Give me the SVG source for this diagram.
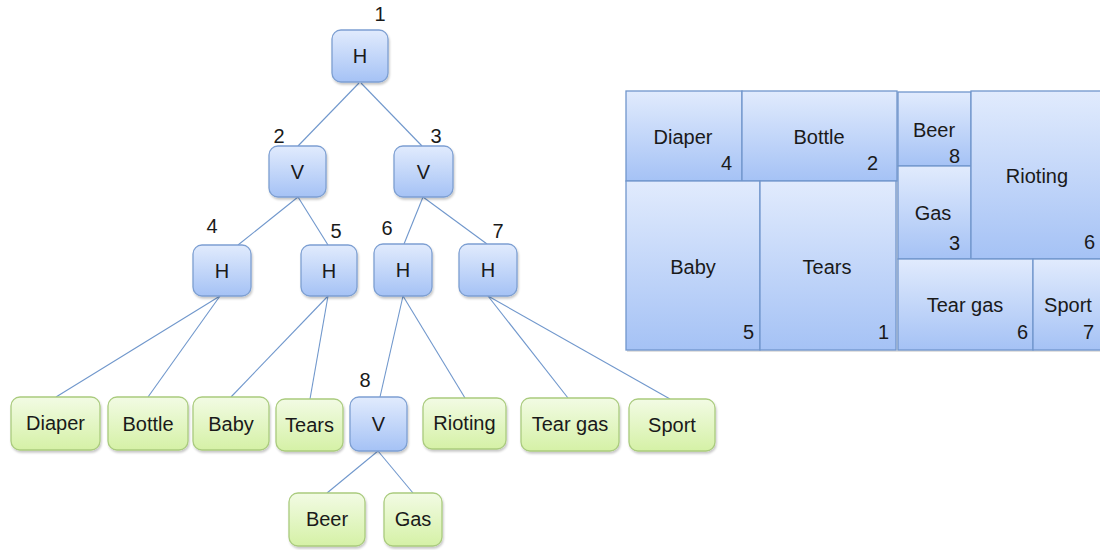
<svg xmlns="http://www.w3.org/2000/svg" width="1100" height="550" viewBox="0 0 1100 550">
  <defs>
    <linearGradient id="blueFill" x1="0" y1="0" x2="0" y2="1">
      <stop offset="0" stop-color="#e1ebfd"/>
      <stop offset="1" stop-color="#a5c2f5"/>
    </linearGradient>
    <linearGradient id="greenFill" x1="0" y1="0" x2="0" y2="1">
      <stop offset="0" stop-color="#f2fbe4"/>
      <stop offset="1" stop-color="#d5f1a6"/>
    </linearGradient>
    <filter id="shadow" x="-10%" y="-10%" width="130%" height="130%">
      <feDropShadow dx="1" dy="2" stdDeviation="1.2" flood-color="#000" flood-opacity="0.22"/>
    </filter>
  </defs>
  <style>
    text { font-family: "Liberation Sans", Arial, sans-serif; font-size: 20px; fill: #1a1a1a; }
    .lbl { text-anchor: middle; dominant-baseline: central; }
    .num { text-anchor: middle; }
    .cnt { text-anchor: end; }
    .op rect { fill: url(#blueFill); stroke: #7d9fd2; stroke-width: 1.3; filter: url(#shadow); }
    .leaf rect { fill: url(#greenFill); stroke: #aacb7e; stroke-width: 1.3; filter: url(#shadow); }
    .cell rect { fill: url(#blueFill); stroke: #7096cc; stroke-width: 1.3; }
    #connectors line { stroke: #7097cc; stroke-width: 1.1; }
  </style>

  <rect width="1100" height="550" fill="#ffffff"/>

  <!-- tree edges -->
  <g id="connectors">
    <line x1="359" y1="83" x2="298" y2="146"/>
    <line x1="361" y1="83" x2="422" y2="146"/>
    <line x1="298" y1="197" x2="238" y2="245"/>
    <line x1="298" y1="197" x2="328" y2="245"/>
    <line x1="423" y1="197" x2="404" y2="244"/>
    <line x1="423" y1="197" x2="487" y2="244"/>
    <line x1="220" y1="296" x2="56" y2="397"/>
    <line x1="220" y1="296" x2="148" y2="397"/>
    <line x1="328" y1="296" x2="231" y2="397"/>
    <line x1="328" y1="296" x2="310" y2="399"/>
    <line x1="403" y1="296" x2="380" y2="397"/>
    <line x1="403" y1="296" x2="465" y2="398"/>
    <line x1="488" y1="296" x2="568" y2="398"/>
    <line x1="488" y1="296" x2="670" y2="399"/>
    <line x1="378" y1="451" x2="327" y2="493"/>
    <line x1="378" y1="451" x2="413" y2="493"/>
  </g>

  <!-- split nodes -->
  <g id="n1" class="op"><rect x="332" y="30" width="56" height="52" rx="9"/><text class="lbl" x="360" y="56">H</text><text class="num" x="380" y="21">1</text></g>
  <g id="n2" class="op"><rect x="269" y="146" width="57" height="51" rx="9"/><text class="lbl" x="297.5" y="172">V</text><text class="num" x="279" y="143">2</text></g>
  <g id="n3" class="op"><rect x="394" y="146" width="59" height="51" rx="9"/><text class="lbl" x="423.5" y="172">V</text><text class="num" x="436" y="143">3</text></g>
  <g id="n4" class="op"><rect x="193" y="245" width="58" height="51" rx="9"/><text class="lbl" x="222" y="271">H</text><text class="num" x="212" y="233">4</text></g>
  <g id="n5" class="op"><rect x="301" y="245" width="56" height="51" rx="9"/><text class="lbl" x="329" y="271">H</text><text class="num" x="336" y="238">5</text></g>
  <g id="n6" class="op"><rect x="374" y="244" width="58" height="52" rx="9"/><text class="lbl" x="403" y="270">H</text><text class="num" x="387" y="235">6</text></g>
  <g id="n7" class="op"><rect x="459" y="244" width="58" height="52" rx="9"/><text class="lbl" x="488" y="270">H</text><text class="num" x="498" y="238">7</text></g>
  <g id="n8" class="op"><rect x="350" y="397" width="57" height="54" rx="9"/><text class="lbl" x="378.5" y="424">V</text><text class="num" x="365" y="387">8</text></g>

  <!-- leaf items -->
  <g id="diaper" class="leaf"><rect x="11" y="397" width="89" height="53" rx="9"/><text class="lbl" x="55.5" y="423">Diaper</text></g>
  <g id="bottle" class="leaf"><rect x="108" y="397" width="80" height="53" rx="9"/><text class="lbl" x="148" y="424">Bottle</text></g>
  <g id="baby" class="leaf"><rect x="193" y="397" width="76" height="53" rx="9"/><text class="lbl" x="231" y="424">Baby</text></g>
  <g id="tears" class="leaf"><rect x="276" y="399" width="67" height="52" rx="9"/><text class="lbl" x="309.5" y="425">Tears</text></g>
  <g id="rioting" class="leaf"><rect x="423" y="398" width="83" height="51" rx="9"/><text class="lbl" x="464.5" y="423">Rioting</text></g>
  <g id="teargas" class="leaf"><rect x="521" y="398" width="98" height="53" rx="9"/><text class="lbl" x="570" y="424">Tear gas</text></g>
  <g id="sport" class="leaf"><rect x="629" y="399" width="86" height="52" rx="9"/><text class="lbl" x="672" y="425">Sport</text></g>
  <g id="beer" class="leaf"><rect x="289" y="493" width="76" height="53" rx="9"/><text class="lbl" x="327" y="519">Beer</text></g>
  <g id="gas" class="leaf"><rect x="384" y="493" width="58" height="53" rx="9"/><text class="lbl" x="413" y="519">Gas</text></g>

  <!-- treemap layout -->
  <g id="treemap">
    <rect x="627" y="92" width="480" height="260" fill="#000" opacity="0.12"/>
    <g class="cell"><rect x="626" y="91" width="116" height="90"/><text class="lbl" x="683" y="137">Diaper</text><text class="cnt" x="732" y="170">4</text></g>
    <g class="cell"><rect x="742" y="91" width="155" height="90"/><text class="lbl" x="819" y="137">Bottle</text><text class="cnt" x="878" y="170">2</text></g>
    <g class="cell"><rect x="626" y="181" width="134" height="169"/><text class="lbl" x="693" y="267">Baby</text><text class="cnt" x="754" y="339">5</text></g>
    <g class="cell"><rect x="760" y="181" width="136" height="169"/><text class="lbl" x="827" y="267">Tears</text><text class="cnt" x="889" y="339">1</text></g>
    <g class="cell"><rect x="898" y="92" width="73" height="74"/><text class="lbl" x="934" y="130">Beer</text><text class="cnt" x="960" y="163">8</text></g>
    <g class="cell"><rect x="898" y="166" width="73" height="93"/><text class="lbl" x="933" y="213">Gas</text><text class="cnt" x="960" y="250">3</text></g>
    <g class="cell"><rect x="971" y="91" width="140" height="168"/><text class="lbl" x="1037" y="176">Rioting</text><text class="cnt" x="1095" y="249">6</text></g>
    <g class="cell"><rect x="898" y="259" width="135" height="91"/><text class="lbl" x="965" y="305">Tear gas</text><text class="cnt" x="1028" y="339">6</text></g>
    <g class="cell"><rect x="1033" y="259" width="78" height="91"/><text class="lbl" x="1068" y="305">Sport</text><text class="cnt" x="1094" y="339">7</text></g>
  </g>
</svg>
